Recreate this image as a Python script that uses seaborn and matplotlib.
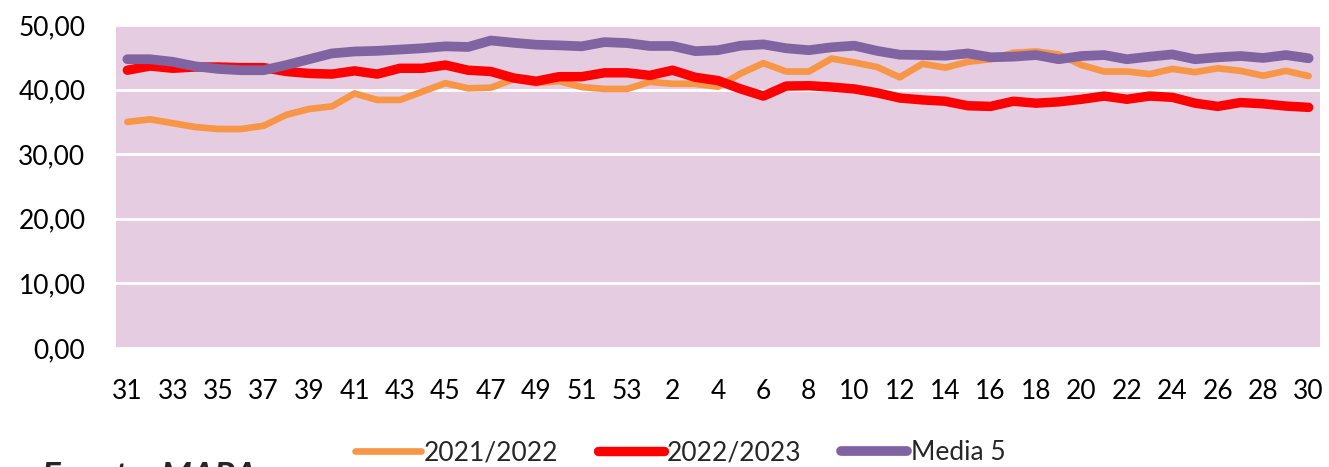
import matplotlib
matplotlib.use("Agg")
import matplotlib.pyplot as plt
import seaborn as sns
import pandas as pd
import numpy as np

weeks = list(range(31, 54)) + list(range(1, 31))

s2021 = [35.0, 35.4, 34.8, 34.2, 33.9, 33.9, 34.4, 36.1, 37.0, 37.4,
         39.4, 38.4, 38.4, 39.7, 41.0, 40.2, 40.3, 41.6, 41.0, 41.3,
         40.4, 40.1, 40.1, 41.2, 40.9, 40.9, 40.45, 42.5, 44.1, 42.8,
         42.8, 44.8, 44.2, 43.5, 41.9, 44.0, 43.4, 44.3, 44.7, 45.7,
         45.9, 45.45, 43.8, 42.8, 42.8, 42.4, 43.2, 42.7, 43.3, 42.9,
         42.15, 42.9, 42.1]

s2022 = [43.0, 43.65, 43.3, 43.5, 43.5, 43.4, 43.4, 42.8, 42.5, 42.4,
         42.9, 42.4, 43.3, 43.3, 43.8, 43.0, 42.8, 41.8, 41.3, 42.0,
         42.0, 42.6, 42.6, 42.2, 43.0, 41.9, 41.4, 40.1, 39.0, 40.55,
         40.6, 40.4, 40.1, 39.5, 38.7, 38.4, 38.2, 37.5, 37.4, 38.2,
         37.9, 38.1, 38.5, 39.0, 38.5, 39.0, 38.8, 37.9, 37.4, 38.0,
         37.8, 37.45, 37.25]

media5 = [44.7, 44.7, 44.3, 43.6, 43.2, 43.0, 43.0, 43.8, 44.7, 45.6,
          45.9, 46.0, 46.2, 46.4, 46.7, 46.6, 47.6, 47.25, 46.95, 46.85,
          46.7, 47.35, 47.2, 46.75, 46.75, 45.95, 46.1, 46.8, 47.0, 46.4,
          46.1, 46.55, 46.8, 46.0, 45.4, 45.35, 45.25, 45.6, 45.0, 45.1,
          45.35, 44.7, 45.2, 45.35, 44.7, 45.1, 45.45, 44.7, 45.0, 45.2,
          44.9, 45.35, 44.85]

series_names = ["2021/2022", "2022/2023", "Media 5"]
colors = ["#F79646", "#FF0000", "#8064A2"]
widths = [4.8, 6.8, 7.0]

pos = np.arange(len(weeks))
df = pd.DataFrame({
    "pos": np.tile(pos, 3),
    "value": s2021 + s2022 + media5,
    "serie": np.repeat(series_names, len(weeks)),
})

sns.set_theme(style="white")
plt.rcParams["font.family"] = ["Lato", "DejaVu Sans"]

fig = plt.figure(figsize=(13.29, 4.67), dpi=100)
ax = fig.add_axes([116/1329, 1-348/467, (1320-116)/1329, (348-25)/467])
ax.set_facecolor("#E6CCE0")

for name, col, lw in zip(series_names, colors, widths):
    sub = df[df["serie"] == name]
    sns.lineplot(data=sub, x="pos", y="value", color=col, linewidth=lw,
                 ax=ax, label=name, legend=False,
                 solid_capstyle="round", solid_joinstyle="round")

ax.set_xlim(-0.5, len(weeks) - 0.5)
ax.set_ylim(0, 50)
ax.set_yticks([0, 10, 20, 30, 40, 50])
ax.set_yticklabels([f"{v:.2f}".replace(".", ",") for v in [0, 10, 20, 30, 40, 50]])
ax.set_xticks(pos[::2])
ax.set_xticklabels([str(w) for w in weeks[::2]])
ax.tick_params(axis="both", length=0, labelsize=19, colors="black")
ax.tick_params(axis="y", pad=22)
ax.tick_params(axis="x", pad=22)
ax.yaxis.grid(True, color="white", linewidth=2)
ax.xaxis.grid(False)
ax.set_axisbelow(True)
for sp in ax.spines.values():
    sp.set_visible(False)
ax.set_xlabel("")
ax.set_ylabel("")

handles, labels = ax.get_legend_handles_labels()
fig.legend(handles, labels, loc="center", bbox_to_anchor=(680/1329, 1-453/467),
           ncol=3, frameon=False, fontsize=19, handlelength=2.5,
           handletextpad=0.12, columnspacing=1.5)

fig.text(42/1329, 1-461/467, "Fuente: MAPA", fontsize=25, fontweight="bold",
         fontstyle="italic", va="top", ha="left")

fig.savefig("out.png", dpi=100)
